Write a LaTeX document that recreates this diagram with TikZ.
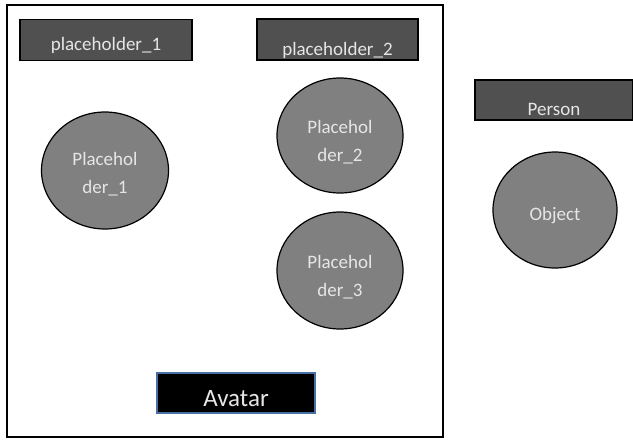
\documentclass[tikz,border=0pt]{standalone}
\usepackage{fontspec}
\setmainfont{Carlito}
\usetikzlibrary{shapes.geometric}
\definecolor{boxfill}{HTML}{505050}
\definecolor{circfill}{HTML}{808080}
\definecolor{txt}{HTML}{E6E6E6}
\definecolor{avborder}{HTML}{4A6FA5}
\newcommand{\baseat}[2]{\raisebox{-#1}[0pt][0pt]{#2}}
\newcommand{\twoline}[3]{\raisebox{#1}[0pt][0pt]{\begin{tabular}[t]{@{}c@{}}#2\\#3\end{tabular}}}
\begin{document}
\begin{tikzpicture}[x=1pt,y=-1pt,
  bar/.style={draw=black, line width=1.2pt, fill=boxfill, text=txt, font=\fontsize{19}{21}\selectfont, inner sep=0pt},
  blob/.style={ellipse, draw=black, line width=1.2pt, fill=circfill, text=txt, font=\fontsize{19}{28}\selectfont, align=center, inner sep=0pt}]
\useasboundingbox (0,0) rectangle (633,440);
\node[draw=black, line width=1.2pt, minimum width=436pt, minimum height=432pt, inner sep=0pt] (frame) at (225,221) {};
\node[bar, minimum width=172pt, minimum height=41pt] (p1) at (106,40) {\baseat{10pt}{placeholder\_1}};
\node[bar, minimum width=161pt, minimum height=41pt] (p2) at (337.5,39.5) {\baseat{15.5pt}{placeholder\_2}};
\node[bar, minimum width=158pt, minimum height=40pt] (person) at (554,100) {\baseat{15pt}{Person}};
\node[blob, minimum width=127pt, minimum height=117pt] (c1) at (105,170.5) {\twoline{5pt}{Placehol}{der\_1}};
\node[blob, minimum width=126pt, minimum height=115pt] (c2) at (340,135.5) {\twoline{2pt}{Placehol}{der\_2}};
\node[blob, minimum width=126pt, minimum height=117pt] (c3) at (340,270.5) {\twoline{2pt}{Placehol}{der\_3}};
\node[blob, minimum width=124pt, minimum height=116pt] (obj) at (555,210) {\baseat{10pt}{Object}};
\node[draw=avborder, line width=1.2pt, fill=black, text=txt, minimum width=158pt, minimum height=40pt, inner sep=0pt, font=\fontsize{25}{27}\selectfont] (av) at (236,393) {\baseat{13pt}{Avatar}};
\end{tikzpicture}
\end{document}
